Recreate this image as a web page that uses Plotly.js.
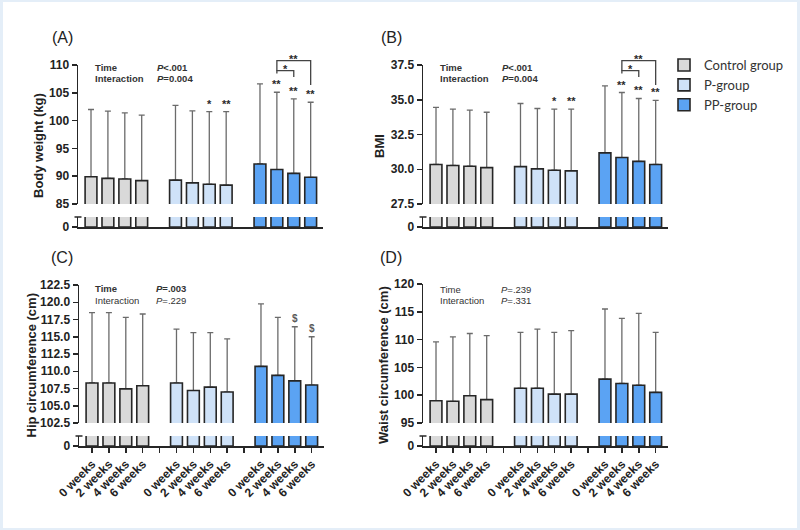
<!DOCTYPE html>
<html><head><meta charset="utf-8">
<script src="https://cdn.plot.ly/plotly-3.0.1.min.js"></script>
<style>html,body{margin:0;padding:0;background:#fff}#chart{width:800px;height:530px}</style>
</head><body><div id="chart"></div>
<script>
// ---------- data ----------
const weeks = ['0 weeks', '2 weeks', '4 weeks', '6 weeks'];
const groups = ['Control group', 'P-group', 'PP-group'];

// (A) Body weight (kg): mean and SD
const bwControl = [89.9, 89.6, 89.5, 89.2];
const bwControlSD = [12.1, 12.1, 11.9, 11.8];
const bwP = [89.3, 88.8, 88.55, 88.4];
const bwPSD = [13.45, 12.95, 13.05, 13.2];
const bwPP = [92.2, 91.2, 90.5, 89.8];
const bwPPSD = [14.4, 13.9, 13.4, 13.5];

// (B) BMI
const bmiControl = [30.34, 30.27, 30.22, 30.12];
const bmiControlSD = [4.11, 4.05, 4.03, 3.98];
const bmiP = [30.19, 30.03, 29.93, 29.88];
const bmiPSD = [4.54, 4.34, 4.39, 4.44];
const bmiPP = [31.18, 30.84, 30.57, 30.34];
const bmiPPSD = [4.82, 4.68, 4.52, 4.61];

// (C) Hip circumference (cm)
const hipControl = [108.3, 108.3, 107.45, 107.9];
const hipControlSD = [10.2, 10.2, 10.35, 10.4];
const hipP = [108.3, 107.2, 107.7, 107.0];
const hipPSD = [7.8, 8.4, 7.9, 7.7];
const hipPP = [110.7, 109.4, 108.6, 108.0];
const hipPPSD = [9.05, 8.4, 7.85, 7.0];

// (D) Waist circumference (cm)
const waistControl = [99.0, 98.9, 99.9, 99.2];
const waistControlSD = [10.6, 11.6, 11.2, 11.5];
const waistP = [101.25, 101.25, 100.2, 100.2];
const waistPSD = [10.05, 10.65, 11.1, 11.4];
const waistPP = [102.9, 102.1, 101.8, 100.5];
const waistPPSD = [12.6, 11.7, 12.9, 10.8];

// statistics text
const statsA = [['<b>Time</b>', '<b><i>P</i>&lt;.001</b>'], ['<b>Interaction</b>', '<b><i>P</i>=0.004</b>']];
const statsB = [['<b>Time</b>', '<b><i>P</i>&lt;.001</b>'], ['<b>Interaction</b>', '<b><i>P</i>=0.004</b>']];
const statsC = [['<b>Time</b>', '<b><i>P</i>=.003</b>'], ['Interaction', '<i>P</i>=.229']];
const statsD = [['Time', '<i>P</i>=.239'], ['Interaction', '<i>P</i>=.331']];

// significance marks: group index, week index, label
const marksA = [[1, 2, '*'], [1, 3, '**'], [2, 1, '**'], [2, 2, '**'], [2, 3, '**']];
const marksB = [[1, 2, '*'], [1, 3, '**'], [2, 1, '**'], [2, 2, '**'], [2, 3, '**']];
const marksC = [[2, 2, '$'], [2, 3, '$']];
const marksD = [];
// brackets: group, from week, to week, label
const bracketsA = [[2, 1, 2, '*'], [2, 1, 3, '**']];
const bracketsB = [[2, 1, 2, '*'], [2, 1, 3, '**']];

// ---------- layout helpers ----------
const W = 800, H = 530;
const colors = ['#d9d9d9', '#cfe2f8', '#5ba3f3'];
const edge = '#262626';
const panels = [
  {lab: '(A)', title: 'Body weight (kg)', means: [bwControl, bwP, bwPP], sds: [bwControlSD, bwPSD, bwPPSD],
   range: [85, 110], dtick: 5, fmt: 'd', x0: 78, x1: 323, top: 65, bot: 204, ltop: 217, lbot: 227,
   titleX: 39, labX: 62, labY: 38, statX: [93, 155], statY: [68, 79], stats: statsA, marks: marksA, brackets: bracketsA, bottom: false},
  {lab: '(B)', title: 'BMI', means: [bmiControl, bmiP, bmiPP], sds: [bmiControlSD, bmiPSD, bmiPPSD],
   range: [27.5, 37.5], dtick: 2.5, fmt: '.1f', x0: 423, x1: 668, top: 65, bot: 204, ltop: 217, lbot: 227,
   titleX: 380, labX: 391, labY: 38, statX: [438, 500], statY: [68, 79], stats: statsB, marks: marksB, brackets: bracketsB, bottom: false},
  {lab: '(C)', title: 'Hip circumference (cm)', means: [hipControl, hipP, hipPP], sds: [hipControlSD, hipPSD, hipPPSD],
   range: [102.5, 122.5], dtick: 2.5, fmt: '.1f', x0: 79, x1: 324, top: 285, bot: 423, ltop: 436, lbot: 446,
   titleX: 31, labX: 62, labY: 257, statX: [93, 154], statY: [288, 300], stats: statsC, marks: marksC, brackets: [], bottom: true},
  {lab: '(D)', title: 'Waist circumference (cm)', means: [waistControl, waistP, waistPP], sds: [waistControlSD, waistPSD, waistPPSD],
   range: [95, 120], dtick: 5, fmt: 'd', x0: 423, x1: 668, top: 284, bot: 423, ltop: 436, lbot: 446,
   titleX: 383, labX: 391, labY: 257, statX: [438, 499], statY: [289, 300], stats: statsD, marks: marksD, brackets: [], bottom: true}
];
const px = v => v / W;
const py = v => 1 - v / H;
const pos = (g, i) => g * 5 + i;
const allPos = [], allText = [];
for (let g = 0; g < 3; g++) {
  weeks.forEach((w, i) => { allPos.push(pos(g, i)); allText.push(w); });
  if (g < 2) { allPos.push(pos(g, 4)); allText.push(''); }
}

const tickFont = {family: 'Liberation Sans, Arial, sans-serif', size: 12, weight: 'bold', color: '#222'};
const starFont = {family: 'Liberation Sans, Arial, sans-serif', size: 11, weight: 'bold', color: '#2a2a2a'};
const dollarFont = {family: 'Liberation Sans, Arial, sans-serif', size: 10, weight: 'bold', color: '#5a5a5a'};
const traces = [];
const annotations = [];
const shapes = [
  {type: 'rect', xref: 'paper', yref: 'paper', x0: px(3), x1: px(797), y0: py(528), y1: py(2), fillcolor: '#ffffff', line: {width: 0}, layer: 'below'}
];
const layout = {
  width: W, height: H, margin: {l: 0, r: 0, t: 0, b: 0},
  paper_bgcolor: '#e4eef8', plot_bgcolor: 'rgba(0,0,0,0)',
  barmode: 'overlay', showlegend: true,
  legend: {x: px(664), y: py(50), xanchor: 'left', yanchor: 'top', bgcolor: 'rgba(0,0,0,0)',
           font: {family: 'Lato, sans-serif', size: 13, color: '#333'}, tracegroupgap: 0},
  font: {family: 'Liberation Sans, Arial, sans-serif', color: '#222'}
};

panels.forEach((P, k) => {
  const n = k + 1;
  const xa = 'x' + (n === 1 ? '' : n);
  const yuN = 2 * n - 1, ylN = 2 * n;
  const yu = 'y' + (yuN === 1 ? '' : yuN);
  const yl = 'y' + ylN;
  groups.forEach((gname, g) => {
    const xs = weeks.map((w, i) => pos(g, i));
    const m = P.means[g], s = P.sds[g];
    traces.push({type: 'bar', x: xs, y: m, xaxis: xa, yaxis: yu, width: 0.7,
      marker: {color: 'rgba(0,0,0,0)', line: {width: 0}},
      error_y: {type: 'data', symmetric: false, array: s, arrayminus: s.map(() => 0), color: '#6b6b6b', thickness: 1.3, width: 3},
      showlegend: false, hoverinfo: 'skip'});
    traces.push({type: 'bar', x: xs, y: m, xaxis: xa, yaxis: yu, width: 0.7, name: gname, legendgroup: gname,
      marker: {color: colors[g], line: {color: edge, width: 1.6}}, showlegend: k === 0});
    traces.push({type: 'bar', x: xs, y: m, xaxis: xa, yaxis: yl, width: 0.7, name: gname, legendgroup: gname,
      marker: {color: colors[g], line: {color: edge, width: 1.6}}, showlegend: false});
  });

  layout['xaxis' + (n === 1 ? '' : n)] = {
    domain: [px(P.x0), px(P.x1)], range: [-0.77, 13.73], anchor: yl,
    showline: true, linecolor: edge, linewidth: 1.5, showgrid: false, zeroline: false, fixedrange: true,
    ticks: P.bottom ? 'outside' : '', ticklen: 5, tickwidth: 1.5, tickcolor: edge,
    tickmode: 'array', tickvals: allPos, ticktext: allText,
    showticklabels: P.bottom, tickangle: -45, tickfont: tickFont
  };
  layout['yaxis' + (yuN === 1 ? '' : yuN)] = {
    domain: [py(P.bot), py(P.top)], range: P.range, anchor: xa,
    tick0: P.range[0], dtick: P.dtick, tickformat: P.fmt,
    showline: true, linecolor: edge, linewidth: 1.5, showgrid: false, zeroline: false, fixedrange: true,
    ticks: 'outside', ticklen: 5, tickwidth: 1.5, tickcolor: edge, tickfont: tickFont
  };
  layout['yaxis' + ylN] = {
    domain: [py(P.lbot), py(P.ltop)], range: [0, 10], anchor: xa,
    tickmode: 'array', tickvals: [0], ticktext: ['0'],
    showline: true, linecolor: edge, linewidth: 1.5, showgrid: false, zeroline: false, fixedrange: true,
    ticks: 'outside', ticklen: 5, tickwidth: 1.5, tickcolor: edge, tickfont: tickFont
  };
  // axis break cap
  shapes.push({type: 'line', xref: 'paper', yref: 'paper', x0: px(P.x0 - 3.5), x1: px(P.x0 + 3.5), y0: py(P.ltop), y1: py(P.ltop), line: {color: edge, width: 1.5}});

  // panel label
  annotations.push({text: P.lab, xref: 'paper', yref: 'paper', x: px(P.labX), y: py(P.labY), xanchor: 'center', yanchor: 'middle', showarrow: false,
    font: {family: 'Liberation Sans, Arial, sans-serif', size: 16, color: '#222'}});
  // y title
  annotations.push({text: '<b>' + P.title + '</b>', xref: 'paper', yref: 'paper', x: px(P.titleX), y: py((P.top + P.lbot) / 2), textangle: -90,
    xanchor: 'center', yanchor: 'middle', showarrow: false, font: {family: 'Liberation Sans, Arial, sans-serif', size: 13, color: '#222'}});
  // stats
  P.stats.forEach((row, r) => {
    row.forEach((t, c) => {
      annotations.push({text: t, xref: 'paper', yref: 'paper', x: px(P.statX[c]), y: py(P.statY[r]), xanchor: 'left', yanchor: 'middle', showarrow: false,
        font: {family: 'Liberation Sans, Arial, sans-serif', size: 9.5, color: '#333'}});
    });
  });
  // significance marks over error caps
  P.marks.forEach(([g, i, t]) => {
    const isDollar = t === '$';
    annotations.push({text: t, xref: xa, yref: yu, x: pos(g, i), y: P.means[g][i] + P.sds[g][i], xanchor: 'center', yanchor: 'bottom',
      showarrow: false, yshift: isDollar ? 1 : 0, font: isDollar ? dollarFont : starFont});
  });
  // brackets
  P.brackets.forEach(([g, a, b, t], j) => {
    const T = P.top;
    const yLine = j === 0 ? T + 5.7 : T - 4.3;
    const yLeft = j === 0 ? T + 8.5 : T + 5.7;
    const yRight = j === 0 ? T + 12 : T + 20;
    const xa0 = pos(g, a), xb = pos(g, b);
    shapes.push({type: 'path', xref: xa, yref: 'paper',
      path: `M${xa0},${py(yLeft)} L${xa0},${py(yLine)} L${xb},${py(yLine)} L${xb},${py(yRight)}`,
      line: {color: '#444', width: 1.3}});
    annotations.push({text: t, xref: xa, yref: 'paper', x: (xa0 + xb) / 2, y: py(yLine - 2), xanchor: 'center', yanchor: 'middle', showarrow: false,
      font: starFont});
  });
});

layout.annotations = annotations;
layout.shapes = shapes;
Plotly.newPlot('chart', traces, layout, {displayModeBar: false, staticPlot: true});
</script>
</body></html>
